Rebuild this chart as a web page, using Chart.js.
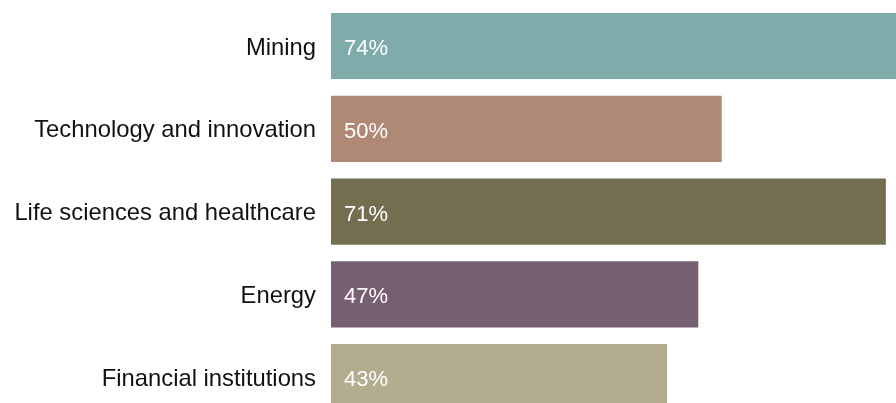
<!DOCTYPE html>
<html>
<head>
<meta charset="utf-8">
<script src="https://cdn.jsdelivr.net/npm/chart.js@4"></script>
<style>
  html, body { margin: 0; padding: 0; background: #fff; overflow: hidden; }
</style>
</head>
<body>
<canvas id="chart" width="896" height="419"></canvas>
<script>
// categories and shares (percent)
const sectors = ['Mining', 'Technology and innovation', 'Life sciences and healthcare', 'Energy', 'Financial institutions'];
const shares = [74, 50, 71, 47, 43];
const barColors = ['#7fabaa', '#b08876', '#746e51', '#765f71', '#b2ad8e'];

//white value labels inside each bar
const valueLabels = {
    id: 'valueLabels',
    afterDatasetsDraw(chart) {
        const ctx = chart.ctx;
        const meta = chart.getDatasetMeta(0);
        ctx.save();
        ctx.font = '22px "Liberation Sans", Arial, sans-serif';
        ctx.fillStyle = '#ffffff';
        ctx.textAlign = 'left';
        ctx.textBaseline = 'middle';
        meta.data.forEach((bar, i) => {
            ctx.fillText(shares[i] + '%', bar.base + 13, bar.y + 3);
        });
        ctx.restore();
    }
};

new Chart(document.getElementById('chart'), {
    type: 'bar',
    data: {
        labels: sectors,
        datasets: [{
            data: shares,
            backgroundColor: barColors,
            borderWidth: 0,
            barPercentage: 0.8,
            categoryPercentage: 1
        }]
    },
    options: {
        indexAxis: 'y',
        responsive: false,
        animation: false,
        layout: { padding: { top: 4.6, bottom: 0.4, left: 0, right: 0 } },
        plugins: {
            legend: { display: false },
            tooltip: { enabled: false }
        },
        scales: {
            x: {
                display: false,
                min: 0,
                max: 72.3
            },
            y: {
                grid: { display: false, drawTicks: false },
                border: { display: false },
                afterFit(scale) {
                    scale.width = 331;
                    scale.paddingTop = 0;
                    scale.paddingBottom = 0;
                },
                ticks: {
                    color: '#111111',
                    padding: 15,
                    labelOffset: 2,
                    font: { family: '"Liberation Sans", Arial, sans-serif', size: 23.8 }
                }
            }
        }
    },
    plugins: [valueLabels]
});
</script>
</body>
</html>
